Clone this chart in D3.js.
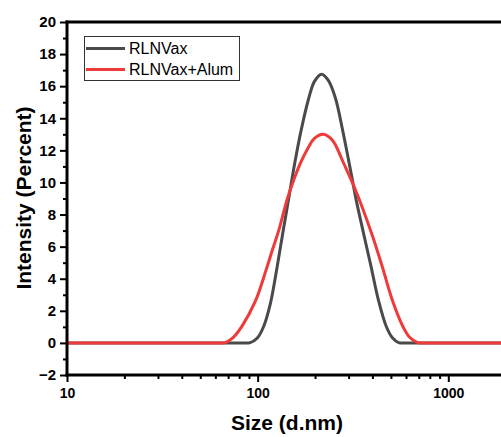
<!doctype html>
<html lang="en">
  <head>
    <meta charset="utf-8">
    <script src="https://cdn.jsdelivr.net/npm/d3@7"></script>
    <style>
body { margin: 0; background: #fff; }
svg text { font-family: "Liberation Sans", Arial, sans-serif; fill: #000; }
.tick-lbl { font-weight: bold; }
.axis-title { font-weight: bold; font-size: 21px; }
.legend text { font-size: 16px; }
    </style>
  </head>
  <body>
    <svg id="chart" width="501" height="437"></svg>
    <script>
//=============================== DATA ===================================
// size (d.nm) / intensity (%) pairs
var rlnvaxSize = [10, 80, 91.5, 99.6, 107.5, 116.6, 123.9, 128.9, 135.3, 145.5, 156.5, 168.7,
	185.4, 198.6, 216.2, 235.2, 256.0, 279.7, 291.4, 308.9, 328.9, 359.3, 393.5, 429.7,
	472.9, 510.4, 548.8, 620, 2500]
var rlnvaxInt = [0, 0, 0.02, 0.3, 1.02, 2.45, 4.1, 5.3, 6.8, 9.0, 11.2, 13.2,
	15.25, 16.3, 16.75, 16.35, 15.25, 13.2, 12.15, 10.6, 8.9, 6.83, 4.75, 2.68,
	1.02, 0.3, 0.02, 0, 0]
var alumSize = [10, 60, 67.7, 74.5, 82.8, 97.3, 111.1, 119.9, 128.9, 144.4, 167.6, 185.4,
	198.6, 221.5, 243.9, 256.0, 277.7, 326.1, 395.8, 450.6, 508.4, 578.1, 626.8, 690.7,
	800, 2500]
var alumInt = [0, 0, 0.02, 0.35, 1.05, 2.6, 4.6, 5.85, 7.0, 9.12, 11.2, 12.23,
	12.75, 13.0, 12.7, 12.34, 11.4, 9.53, 6.83, 4.75, 2.68, 1.02, 0.35, 0.02,
	0, 0]
var seriesNames = ['RLNVax', 'RLNVax+Alum']
var seriesColors = ['#4a4a4a', '#ee3a3a']
var yMajor = [-2, 0, 2, 4, 6, 8, 10, 12, 14, 16, 18, 20]
var yMinor = [-1, 1, 3, 5, 7, 9, 11, 13, 15, 17, 19]
var xMajor = [10, 100, 1000]
var xMinor = [20, 30, 40, 50, 60, 70, 80, 90, 200, 300, 400, 500, 600, 700, 800, 900, 2000]

//=============================== DRAW ===================================
var svg = d3.select('#chart')
var pLeft = 67, pTop = 22, pBottom = 375, pRight = 501

var x = d3.scaleLog().domain([10, 1000]).range([pLeft, 448.3])
var y = d3.scaleLinear().domain([-2, 20]).range([pBottom, pTop])

svg.append('clipPath').attr('id', 'plot-clip')
	.append('rect').attr('x', pLeft).attr('y', pTop).attr('width', pRight - pLeft).attr('height', pBottom - pTop)

var line = d3.line()
	.x(function(d) { return x(d[0]) })
	.y(function(d) { return y(d[1]) })
	.curve(d3.curveCatmullRom.alpha(0.5))

var series = [[rlnvaxSize, rlnvaxInt], [alumSize, alumInt]]
var plot = svg.append('g').attr('clip-path', 'url(#plot-clip)')
series.forEach(function(sr, i) {
	plot.append('path')
		.datum(sr[0].map(function(s, j) { return [s, sr[1][j]] }))
		.attr('d', line)
		.attr('fill', 'none')
		.attr('stroke', seriesColors[i])
		.attr('stroke-width', 3)
		.attr('stroke-linejoin', 'round')
})

// y axis
var gy = svg.append('g').attr('transform', 'translate(' + pLeft + ',0)')
gy.call(d3.axisLeft(y).tickValues(yMajor).tickSize(7).tickSizeOuter(0).tickPadding(4))
gy.append('g').call(d3.axisLeft(y).tickValues(yMinor).tickSize(4).tickFormat(''))
	.select('.domain').remove()
gy.selectAll('.domain').attr('stroke', '#000').attr('stroke-width', 3)
	.attr('d', 'M0,' + (pTop - 1.5) + 'V' + (pBottom + 1.5))
gy.selectAll('.tick line').attr('stroke', '#000').attr('stroke-width', 2)
gy.selectAll('.tick text').attr('class', 'tick-lbl').style('font-size', '15px')

// x axis
var gx = svg.append('g').attr('transform', 'translate(0,' + pBottom + ')')
gx.call(d3.axisBottom(x).tickValues(xMajor).tickSize(7).tickSizeOuter(0).tickPadding(6)
	.tickFormat(d3.format('d')))
gx.append('g').call(d3.axisBottom(x).tickValues(xMinor).tickSize(4).tickFormat(''))
	.select('.domain').remove()
gx.selectAll('.domain').attr('stroke', '#000').attr('stroke-width', 3)
	.attr('d', 'M' + (pLeft - 1.5) + ',0H' + pRight)
gx.selectAll('.tick line').attr('stroke', '#000').attr('stroke-width', 2)
gx.selectAll('.tick text').attr('class', 'tick-lbl').style('font-size', '14px')

// top frame line
svg.append('line')
	.attr('x1', pLeft - 1.5).attr('x2', pRight).attr('y1', pTop).attr('y2', pTop)
	.attr('stroke', '#000').attr('stroke-width', 3)

// titles
svg.append('text').attr('class', 'axis-title')
	.attr('x', 287).attr('y', 430).attr('text-anchor', 'middle')
	.text('Size (d.nm)')
svg.append('text').attr('class', 'axis-title')
	.attr('transform', 'translate(31,198) rotate(-90)')
	.attr('text-anchor', 'middle')
	.text('Intensity (Percent)')

// legend
var lg = svg.append('g').attr('class', 'legend')
lg.append('rect').attr('x', 84.5).attr('y', 36.5).attr('width', 155).attr('height', 44)
	.attr('fill', '#fff').attr('stroke', '#333').attr('stroke-width', 1)
seriesNames.forEach(function(name, i) {
	var ly = 48.5 + i * 21
	lg.append('line').attr('x1', 86).attr('x2', 125).attr('y1', ly).attr('y2', ly)
		.attr('stroke', seriesColors[i]).attr('stroke-width', 3)
	lg.append('text').attr('x', 129).attr('y', ly).attr('dy', '0.36em').text(name)
})
    </script>
  </body>
</html>
